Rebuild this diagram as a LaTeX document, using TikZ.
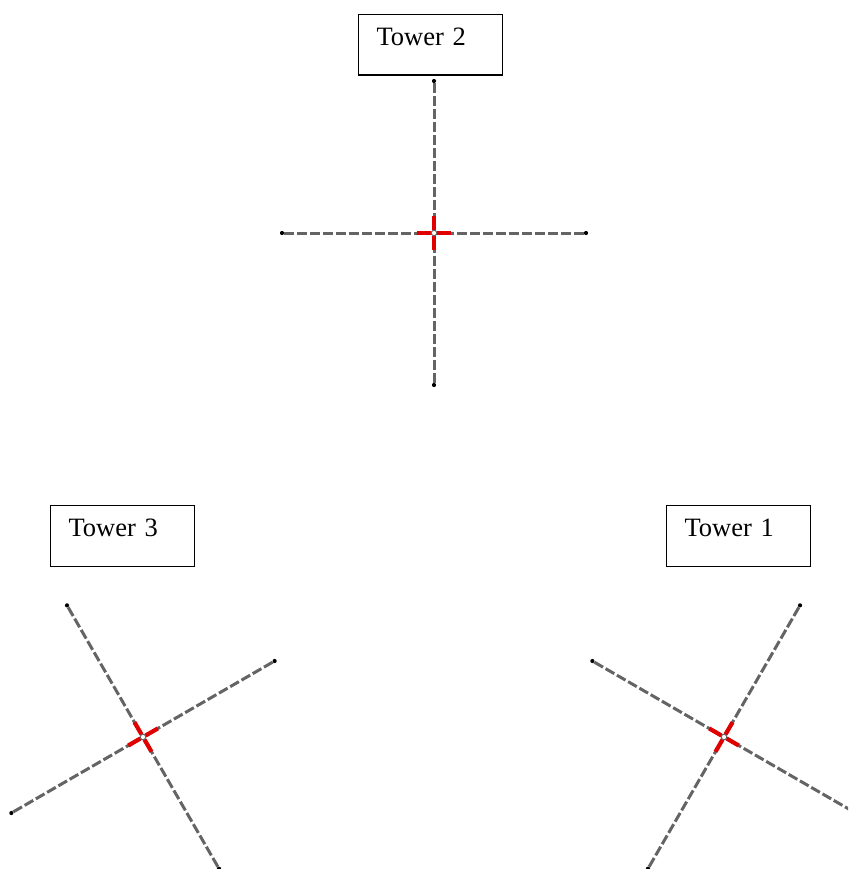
\documentclass[tikz,border=0pt]{standalone}
\usepackage{fontspec}
\setmainfont{Liberation Serif}
\usetikzlibrary{calc}
\definecolor{armgray}{RGB}{100,100,100}
\definecolor{tickred}{RGB}{225,0,0}
\begin{document}
\begin{tikzpicture}[x=1pt,y=1pt,
  arm/.style={draw=armgray, line width=3pt, dash pattern=on 10pt off 3pt},
  armend/.style={circle, fill=black, inner sep=0pt, minimum size=4.2pt},
  redtick/.style={draw=tickred, line width=4.2pt},
  hub/.style={circle, draw=armgray, fill=white, line width=1pt, inner sep=0pt, minimum size=5.5pt},
  towerbox/.style={draw, line width=1.1pt, inner xsep=18pt, inner ysep=0pt,
    text width=108pt, align=left, text height=31pt, text depth=29.5pt,
    font=\fontsize{26.5}{30}\selectfont}]
\useasboundingbox (0,0) rectangle (848,-869);
\clip (0,0) rectangle (848,-869);

% three crossing antenna arms, one set per tower
\foreach \n/\cx/\cy/\a in {2/434/233/0, 3/143/737/30, 1/724/737/60} {
  \coordinate (c\n) at (\cx,-\cy);
  \foreach \k in {0,1,2,3} {
    \pgfmathsetmacro\ang{\a+90*\k}
    \node[armend] (e\n\k) at ($(c\n)+(\ang:152)$) {};
    \draw[arm] (e\n\k) -- (c\n);
  }
  \foreach \k in {0,1,2,3} {
    \pgfmathsetmacro\ang{\a+90*\k}
    \draw[redtick] ($(c\n)+(\ang:3)$) -- ($(c\n)+(\ang:17)$);
  }
  \node[hub] (h\n) at (c\n) {};
}

% tower labels
\node[towerbox, anchor=north west] (t2) at (358,-14) {Tower 2};
\node[towerbox, anchor=north west] (t3) at (50,-505) {Tower 3};
\node[towerbox, anchor=north west] (t1) at (666,-505) {Tower 1};
\end{tikzpicture}
\end{document}
